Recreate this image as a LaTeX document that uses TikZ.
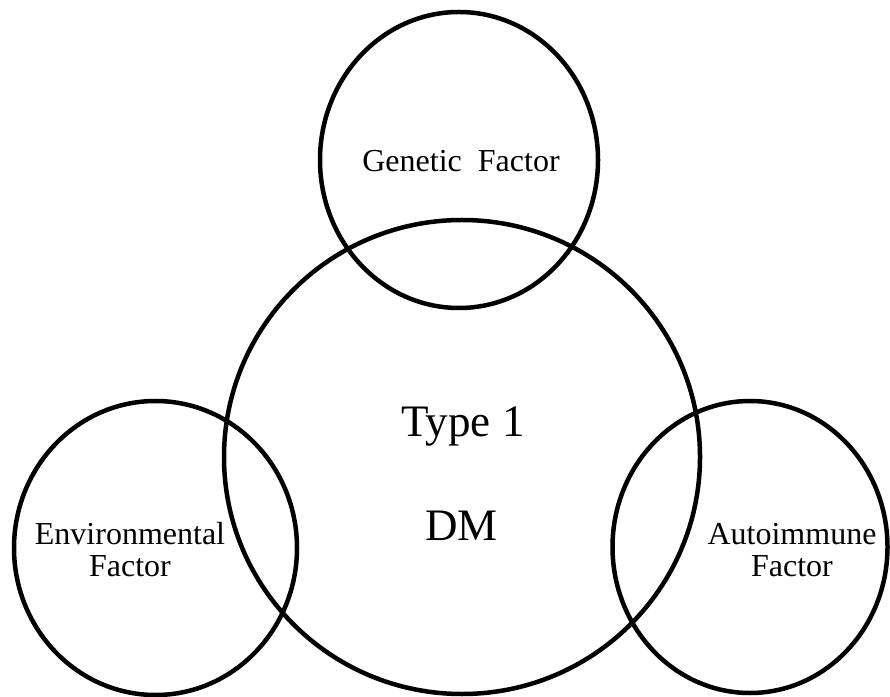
\documentclass[tikz,border=0pt]{standalone}
\usepackage{fontspec}
\setmainfont{Liberation Serif}

\begin{document}
\begin{tikzpicture}[x=1pt,y=1pt,line width=4.5pt]
\useasboundingbox (0,0) rectangle (890,696);
\coordinate (G) at (459,536); \coordinate (T) at (462,239); \coordinate (E) at (155.5,148); \coordinate (A) at (750,149);
\draw (G) ellipse [x radius=139, y radius=148];
\draw (T) ellipse [x radius=238, y radius=237];
\draw (E) ellipse [x radius=141.5, y radius=147];
\draw (A) ellipse [x radius=137.5, y radius=146];
\node[anchor=base,font=\fontsize{32}{32}\selectfont] (gen) at (461,524) {Genetic~~Factor};
\node[anchor=base,font=\fontsize{45}{54}\selectfont] (type) at (463,259) {Type 1};
\node[anchor=base,font=\fontsize{45}{54}\selectfont] (dm) at (461.5,156) {DM};
\node[align=center,font=\fontsize{32}{32}\selectfont] (env) at (130,146) {Environmental\\Factor};
\node[align=center,font=\fontsize{32}{32}\selectfont] (auto) at (792,146) {Autoimmune\\Factor};
\end{tikzpicture}
\end{document}
